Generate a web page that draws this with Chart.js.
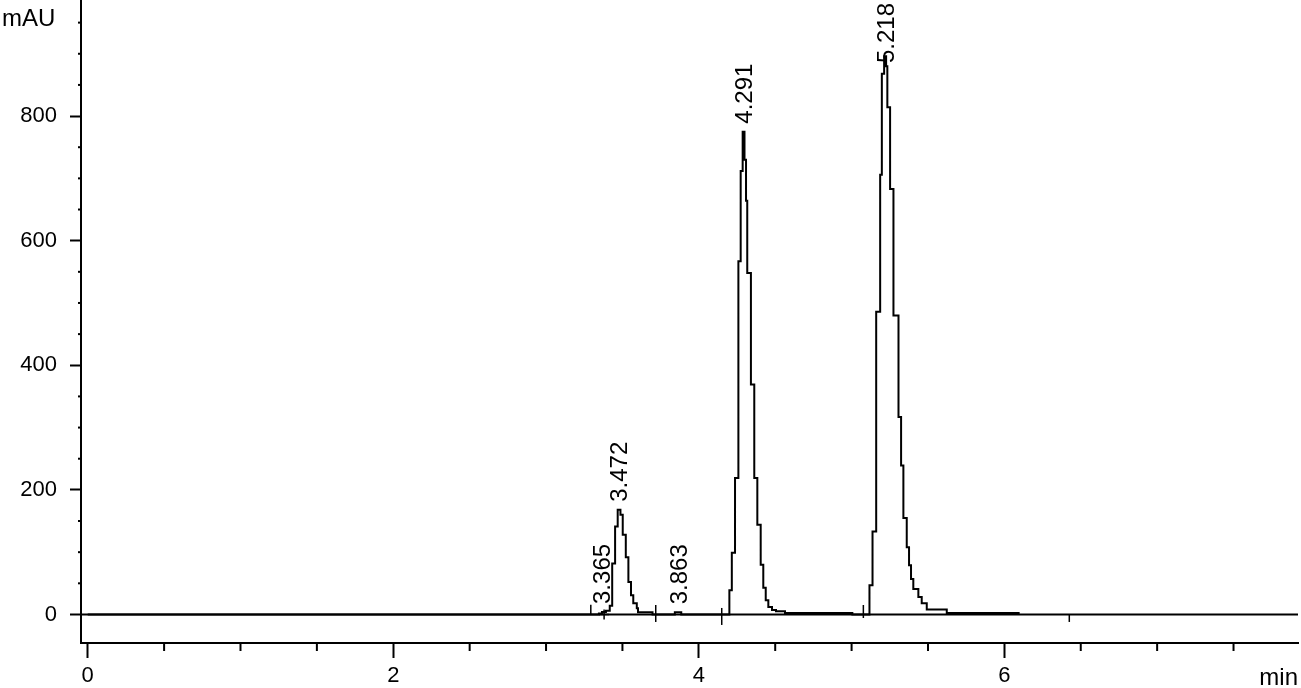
<!DOCTYPE html>
<html><head><meta charset="utf-8">
<script src="https://cdn.jsdelivr.net/npm/chart.js@4"></script>
<style>html,body{margin:0;padding:0;background:#fff;}#wrap{width:1301px;height:688px;position:relative;}</style>
</head><body><div id="wrap"><canvas id="c" width="1301" height="688"></canvas></div>
<script>
// Retention time (min) and detector signal (mAU) of the chromatogram trace
const traceTimes = [0, 3.270, 3.346, 3.366, 3.392, 3.417, 3.433, 3.452, 3.469, 3.487, 3.502, 3.522, 3.539, 3.556, 3.571, 3.594, 3.602, 3.697,
  3.843, 3.885, 4.185, 4.200, 4.216, 4.237, 4.259, 4.274, 4.287, 4.299, 4.309, 4.317, 4.341, 4.363, 4.383, 4.405, 4.422, 4.438, 4.455, 4.479, 4.505, 4.564, 5.005,
  5.095, 5.117, 5.137, 5.161, 5.187, 5.198, 5.213, 5.226, 5.234, 5.252, 5.274, 5.307, 5.324, 5.339, 5.361, 5.376, 5.389, 5.404, 5.437, 5.459, 5.492, 5.623, 6.100];
const traceValues = [0, 0, 1.5, 4, 6, 14, 82, 141, 168, 160, 128, 92, 52, 31, 18, 10, 3.5, 0,
  3.5, 0, 0, 39, 99, 219, 567, 712, 775, 730, 664, 548, 369, 219, 144, 80, 43, 23, 12, 7, 5, 2.5, 0,
  0, 47, 133, 486, 706, 868, 896, 880, 814, 683, 480, 317, 239, 155, 108, 79, 57, 41, 28, 18, 8, 2.5, 2.5];
// Peak annotations
const peakTimes = [3.365, 3.472, 3.863, 4.291, 5.218];
const peakHeights = [4, 168, 3.5, 775, 896];
const peakLabels = ['3.365', '3.472', '3.863', '4.291', '5.218'];
// Integration event marks
const eventTimes = [3.293, 3.380, 3.718, 4.150, 5.077, 6.425];
const eventValues = [7.7, 0, 1.6, -3.2, 4.8, -6.4];
// Axes
const xRange = [-0.044, 7.922];
const yRange = [-45.8, 984.7];
const xMajorTicks = [0, 2, 4, 6];
const xMinorTicks = [0.5, 1, 1.5, 2.5, 3, 3.5, 4.5, 5, 5.5, 6.5, 7, 7.5];
const yMajorTicks = [0, 200, 400, 600, 800];
const yMinorTicks = [50, 100, 150, 250, 300, 350, 450, 500, 550, 650, 700, 750, 850, 900, 950];
const xUnit = 'min';
const yUnit = 'mAU';

const FONT = '"Liberation Sans", Arial, sans-serif';

const decor = {
  id: 'decor',
  afterDraw(chart) {
    const { ctx, chartArea } = chart;
    const x = chart.scales.x, y = chart.scales.y;
    ctx.save();
    ctx.strokeStyle = '#000';
    ctx.lineWidth = 2;
    yMinorTicks.forEach(v => {
      const py = y.getPixelForValue(v);
      ctx.beginPath(); ctx.moveTo(chartArea.left - 3, py); ctx.lineTo(chartArea.left, py); ctx.stroke();
    });
    xMinorTicks.forEach(v => {
      const px = x.getPixelForValue(v);
      ctx.beginPath(); ctx.moveTo(px, chartArea.bottom); ctx.lineTo(px, chartArea.bottom + 8); ctx.stroke();
    });
    ctx.fillStyle = '#000';
    ctx.font = '24px ' + FONT;
    peakTimes.forEach((t, i) => {
      const px = x.getPixelForValue(t) + 2;
      const w = ctx.measureText(peakLabels[i]).width;
      let by = y.getPixelForValue(peakHeights[i]) - 8;
      by = Math.max(by, chartArea.top + w + 2);
      ctx.save();
      ctx.translate(px, by);
      ctx.rotate(-Math.PI / 2);
      ctx.textAlign = 'left';
      ctx.textBaseline = 'middle';
      ctx.fillText(peakLabels[i], 0, 0);
      ctx.restore();
    });
    ctx.font = '24px ' + FONT;
    ctx.textBaseline = 'middle';
    ctx.textAlign = 'left';
    ctx.fillText(yUnit, 2, 19);
    ctx.textAlign = 'right';
    ctx.fillText(xUnit, chartArea.right, 678);
    ctx.restore();
  }
};

new Chart(document.getElementById('c'), {
  type: 'line',
  data: {
    datasets: [
      {
        label: 'trace',
        data: traceTimes.map((t, i) => ({ x: t, y: traceValues[i] })),
        borderColor: '#000', borderWidth: 2, pointRadius: 0, stepped: 'before', fill: false, order: 1
      },
      {
        label: 'baseline',
        data: [{ x: xRange[0], y: 0 }, { x: xRange[1], y: 0 }],
        borderColor: '#000', borderWidth: 2, pointRadius: 0, fill: false, order: 2
      },
      {
        label: 'events',
        type: 'scatter',
        data: eventTimes.map((t, i) => ({ x: t, y: eventValues[i] })),
        showLine: false,
        pointStyle: ['line', 'cross', 'line', 'line', 'line', 'line'],
        rotation: 90,
        pointRadius: [4.8, 5, 8.5, 8.5, 6.5, 3.5],
        borderColor: '#000', backgroundColor: '#000', pointBorderWidth: 1.5, order: 0
      }
    ]
  },
  options: {
    responsive: false,
    animation: false,
    devicePixelRatio: 1,
    layout: { autoPadding: false, padding: { top: 1, right: 3, left: 0, bottom: 0 } },
    plugins: { legend: { display: false }, tooltip: { enabled: false } },
    scales: {
      x: {
        type: 'linear', min: xRange[0], max: xRange[1],
        afterBuildTicks: s => { s.ticks = xMajorTicks.map(v => ({ value: v })); },
        afterFit: s => { s.height = 45; s.paddingLeft = 0; s.paddingRight = 0; },
        grid: { drawOnChartArea: false, drawTicks: true, tickLength: 15, tickWidth: 2, tickColor: '#000' },
        border: { display: true, color: '#000', width: 2 },
        ticks: { color: '#000', font: { family: FONT, size: 22 }, padding: 5, maxRotation: 0, autoSkip: false, callback: v => String(v) }
      },
      y: {
        type: 'linear', min: yRange[0], max: yRange[1],
        afterBuildTicks: s => { s.ticks = yMajorTicks.map(v => ({ value: v })); },
        afterFit: s => { s.width = 81; s.paddingTop = 0; s.paddingBottom = 0; },
        grid: { drawOnChartArea: false, drawTicks: true, tickLength: 11, tickWidth: 2, tickColor: '#000' },
        border: { display: true, color: '#000', width: 2 },
        ticks: { color: '#000', font: { family: FONT, size: 22 }, padding: 13, autoSkip: false, callback: v => String(v) }
      }
    }
  },
  plugins: [decor]
});
</script>
</body></html>
